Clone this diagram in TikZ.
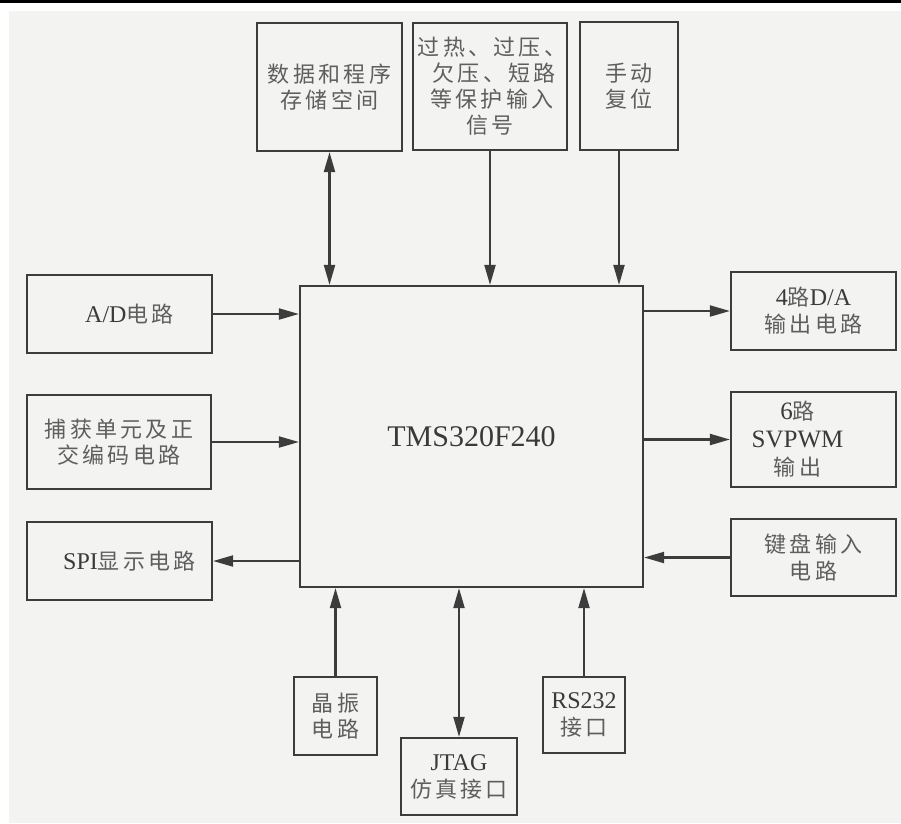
\documentclass[tikz,border=0pt]{standalone}
\usepackage{fontspec}
\setmainfont{Liberation Serif}
\newfontfamily\cjk[LetterSpace=15]{Noto Sans CJK SC}
\usetikzlibrary{arrows.meta}
\definecolor{bg}{HTML}{F3F4F2}
\definecolor{ln}{HTML}{3C3C3C}
\definecolor{zhc}{HTML}{5E5E5E}
\definecolor{enc}{HTML}{3A3A3A}
\newcommand{\zh}[1]{{\cjk\fontsize{22}{25}\selectfont\color{zhc}#1}}
\begin{document}
\begin{tikzpicture}[x=1pt,y=-1pt,
  blk/.style={draw=ln, line width=2.2pt, fill=bg, inner sep=0pt, align=center, text=enc, font=\fontsize{24}{26}\selectfont},
  conn/.style={draw=ln, line width=2.1pt, -{Triangle[length=20pt,width=11pt]}},
  bconn/.style={draw=ln, line width=2.1pt, {Triangle[length=20pt,width=11pt]}-{Triangle[length=20pt,width=11pt]}}]
\useasboundingbox (0,0) rectangle (901,823);
\fill[white] (0,0) rectangle (901,823);
\fill[black] (0,0) rectangle (901,3);
\fill[bg] (9,11) rectangle (901,823);

% top row
\node[blk, minimum width=145pt, minimum height=128pt] (mem) at (329.5,87) {\zh{数据和程序}\\\zh{存储空间}};
\node[blk, minimum width=154pt, minimum height=127pt] (prot) at (490,86.5) {\hspace*{4pt}\zh{过热、过压、}\\\hspace*{8pt}\zh{欠压、短路}\\\hspace*{4pt}\zh{等保护输入}\\\zh{信号}};
\node[blk, minimum width=98pt, minimum height=128pt] (rst) at (629,86) {\zh{手动}\\\zh{复位}};

% main
\node[blk, minimum width=343pt, minimum height=301pt, font=\fontsize{30}{32}\selectfont] (tms) at (471.5,436.5) {TMS320F240};

% left
\node[blk, minimum width=185pt, minimum height=78pt] (ad) at (119.5,314) {\hspace*{20pt}A/D\zh{电路}};
\node[blk, minimum width=184pt, minimum height=94pt] (cap) at (119,442) {\zh{捕获单元及正}\\\zh{交编码电路}};
\node[blk, minimum width=185pt, minimum height=78pt] (spi) at (119.5,561) {\hspace*{20pt}SPI\zh{显示电路}};

% right
\node[blk, minimum width=165pt, minimum height=78pt, font=\fontsize{24}{27}\selectfont] (da) at (813.5,311) {4\zh{路}D/A\\\zh{输出电路}};
\node[blk, minimum width=165pt, minimum height=95pt, font=\fontsize{25}{28}\selectfont] (pwm) at (813.5,439.5) {\hspace*{-32pt}6\zh{路}\\\hspace*{-32pt}SVPWM\\\hspace*{-32pt}\zh{输出}};
\node[blk, minimum width=165pt, minimum height=77pt, font=\fontsize{24}{27}\selectfont] (kb) at (813.5,557.5) {\zh{键盘输入}\\\zh{电路}};

% bottom
\node[blk, minimum width=83pt, minimum height=78pt] (xtal) at (335.5,716) {\zh{晶振}\\\zh{电路}};
\node[blk, minimum width=116pt, minimum height=77pt, font=\fontsize{24}{27}\selectfont] (jtag) at (459,776.5) {JTAG\\\zh{仿真接口}};
\node[blk, minimum width=82pt, minimum height=76pt, font=\fontsize{24}{27}\selectfont] (rs) at (584,715) {RS232\\\zh{接口}};

% connectors
\draw[bconn] (mem.south) -- (mem.south |- tms.north);
\draw[conn] (prot.south) -- (prot.south |- tms.north);
\draw[conn] ([xshift=-10pt]rst.south) -- ([xshift=-10pt]rst.south |- tms.north);
\draw[conn] (ad.east) -- (ad.east -| tms.west);
\draw[conn] (cap.east) -- (cap.east -| tms.west);
\draw[conn] (spi.east -| tms.west) -- (spi.east);
\draw[conn] (da.west -| tms.east) -- (da.west);
\draw[conn] (pwm.west -| tms.east) -- (pwm.west);
\draw[conn] (kb.west) -- (kb.west -| tms.east);
\draw[conn] (xtal.north) -- (xtal.north |- tms.south);
\draw[bconn] (jtag.north) -- (jtag.north |- tms.south);
\draw[conn] (rs.north) -- (rs.north |- tms.south);
\end{tikzpicture}
\end{document}
